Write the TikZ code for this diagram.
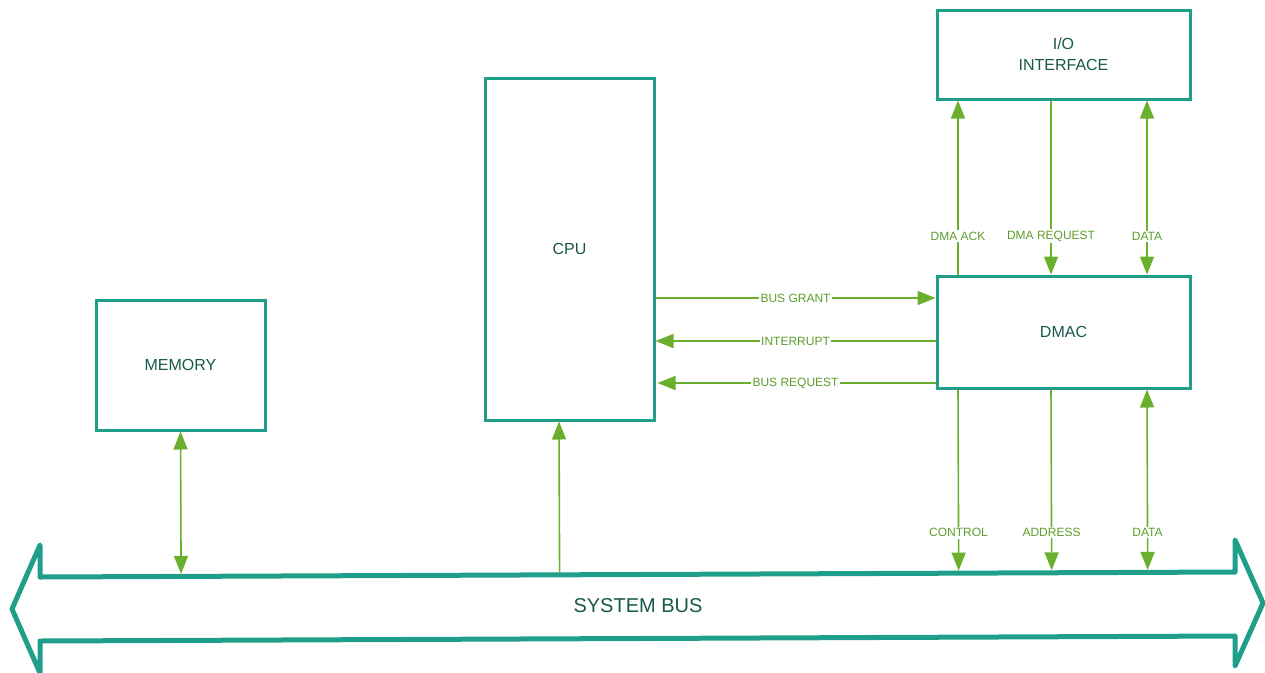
\documentclass[tikz,border=0pt]{standalone}
\usepackage{fontspec}
\setmainfont{Liberation Sans}
\usetikzlibrary{arrows.meta,calc}
\definecolor{boxline}{HTML}{1F9E89}
\definecolor{boxtext}{HTML}{17594A}
\definecolor{sig}{HTML}{6AAF2D}
\definecolor{sigtext}{HTML}{5C9E2B}
\begin{document}
\begin{tikzpicture}[x=1pt,y=-1pt,
  unit/.style={draw=boxline,line width=3pt,fill=white,text=boxtext,
    font=\fontsize{16}{21}\selectfont,align=center,inner sep=0pt},
  sigline/.style={draw=sig,line width=1.6pt},
  onearrow/.style={sigline,-{Triangle[length=18pt,width=14pt]}},
  twoarrow/.style={sigline,{Triangle[length=18pt,width=14pt]}-{Triangle[length=18pt,width=14pt]}},
  siglabel/.style={fill=white,text=sigtext,font=\fontsize{12}{14}\selectfont,inner sep=1.5pt},
  busline/.style={draw=boxline,line width=5pt,line join=round}]
\useasboundingbox (0,0) rectangle (1265,672);

% functional units
\node[unit,minimum width=253pt,minimum height=89pt] (io) at (1063.5,54.5) {I/O\\INTERFACE};
\node[unit,minimum width=169pt,minimum height=342pt] (cpu) at (569.5,249) {CPU};
\node[unit,minimum width=169pt,minimum height=130pt] (mem) at (180.5,365) {MEMORY};
\node[unit,minimum width=253pt,minimum height=112pt] (dmac) at (1063.5,332) {DMAC};

% system bus outline (double-headed block arrow)
\coordinate (ltip) at (12,609);
\coordinate (lbt) at (40,545);
\coordinate (tl) at (40,577);
\coordinate (tr) at (1235,572);
\coordinate (rbt) at (1235,540);
\coordinate (rtip) at (1263,603);
\coordinate (rbb) at (1235,666);
\coordinate (br) at (1235,636);
\coordinate (bl) at (40,641);
\coordinate (lbb) at (40,673);
\draw[busline] (ltip) -- (lbt) -- (tl) -- (tr) -- (rbt) -- (rtip) -- (rbb) -- (br) -- (bl) -- (lbb) -- cycle;
\node[text=boxtext,font=\fontsize{20}{24}\selectfont] (busname) at (638,606) {SYSTEM BUS};

% signal rows and columns
\coordinate (grantrow) at (0,298);
\coordinate (introw) at (0,341);
\coordinate (reqrow) at (0,383);
\coordinate (ackx) at (958,0);
\coordinate (reqx) at (1051,0);
\coordinate (datx) at (1147,0);
\coordinate (cpux) at (559,0);

% CPU <-> DMAC handshake
\draw[onearrow] (cpu.east |- grantrow) -- node[siglabel,midway] {BUS GRANT} (dmac.west |- grantrow);
\draw[onearrow] (dmac.west |- introw) -- node[siglabel,midway] {INTERRUPT} (cpu.east |- introw);
\draw[onearrow,shorten >=2pt] (dmac.west |- reqrow) -- node[siglabel,midway] {BUS REQUEST} (cpu.east |- reqrow);

% DMAC <-> I/O interface
\draw[onearrow] (dmac.north -| ackx) -- node[siglabel,pos=0.22] {DMA ACK} (io.south -| ackx);
\draw[onearrow] (io.south -| reqx) -- node[siglabel,pos=0.78] {DMA REQUEST} (dmac.north -| reqx);
\draw[twoarrow] (io.south -| datx) -- node[siglabel,pos=0.78] {DATA} (dmac.north -| datx);

% attachment points on the top edge of the bus
\coordinate (memtap) at ($(tl)!(mem.south)!(tr)$);
\coordinate (cputap) at ($(tl)!(cpu.south -| cpux)!(tr)$);
\coordinate (ctltap) at ($(tl)!(dmac.south -| ackx)!(tr)$);
\coordinate (adrtap) at ($(tl)!(dmac.south -| reqx)!(tr)$);
\coordinate (dattap) at ($(tl)!(dmac.south -| datx)!(tr)$);

% DMAC -> system bus
\draw[onearrow,shorten >=2.5pt] (dmac.south -| ackx) -- node[siglabel,pos=0.78] {CONTROL} (ctltap);
\draw[onearrow,shorten >=2.5pt] (dmac.south -| reqx) -- node[siglabel,pos=0.78] {ADDRESS} (adrtap);
\draw[twoarrow,shorten >=2.5pt] (dmac.south -| datx) -- node[siglabel,pos=0.78] {DATA} (dattap);

% memory and CPU on the bus
\draw[twoarrow,shorten >=2.5pt] (mem.south) -- (memtap);
\draw[onearrow,shorten <=2.5pt] (cputap) -- (cpu.south -| cpux);
\end{tikzpicture}
\end{document}
